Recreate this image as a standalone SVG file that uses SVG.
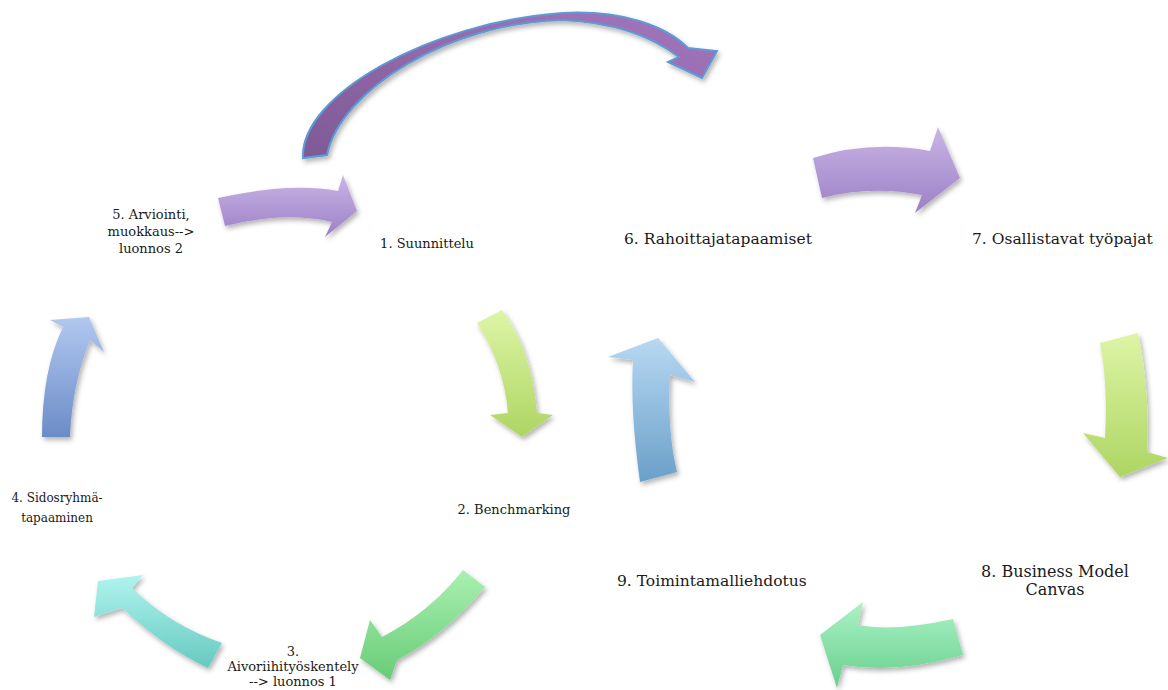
<svg xmlns="http://www.w3.org/2000/svg" width="1168" height="690" viewBox="0 0 1168 690">
<style>
.t{font-family:"DejaVu Serif","Liberation Serif",serif;fill:#1a1a1a}
.s{font-size:13px}
.l{font-size:15.5px}
.m{font-size:16px}
.arr{filter:url(#sh)}
</style>
<defs>
<filter id="sh" x="-20%" y="-20%" width="150%" height="150%">
<feDropShadow dx="2" dy="3" stdDeviation="2.5" flood-color="#000" flood-opacity="0.3"/>
</filter>
<linearGradient id="gPur" x1="0" y1="0" x2="0" y2="1"><stop offset="0" stop-color="#c9b5e6"/><stop offset="1" stop-color="#9c80c6"/></linearGradient>
<linearGradient id="gArc" x1="0" y1="1" x2="1" y2="0"><stop offset="0" stop-color="#7e5a95"/><stop offset="1" stop-color="#a476bd"/></linearGradient>
<linearGradient id="gLime" x1="0" y1="0" x2="0" y2="1"><stop offset="0" stop-color="#ddf5a6"/><stop offset="1" stop-color="#aed562"/></linearGradient>
<linearGradient id="gSky" x1="0" y1="0" x2="0" y2="1"><stop offset="0" stop-color="#b8d8f2"/><stop offset="1" stop-color="#6aa0c9"/></linearGradient>
<linearGradient id="gBlue" x1="0" y1="0" x2="0" y2="1"><stop offset="0" stop-color="#b2c8f0"/><stop offset="1" stop-color="#6b8cc7"/></linearGradient>
<linearGradient id="gCyan" x1="0" y1="0" x2="0" y2="1"><stop offset="0" stop-color="#b0f4ee"/><stop offset="1" stop-color="#66c9c0"/></linearGradient>
<linearGradient id="gGrn" x1="0" y1="0" x2="0" y2="1"><stop offset="0" stop-color="#a9f0b0"/><stop offset="1" stop-color="#68cc78"/></linearGradient>
<linearGradient id="gGrn2" x1="0" y1="0" x2="0" y2="1"><stop offset="0" stop-color="#aaf2c4"/><stop offset="1" stop-color="#68cf8e"/></linearGradient>
</defs>

<g id="connectors">
<path id="arc-5-6" class="arr" d="M303,158 C300,95 430,22 563,13 C620,10 665,25 688,48 L717,51 L702,78 L668,62 L679,57 C650,35 610,22 563,20 C450,22 340,90 327,155 Z" fill="url(#gArc)" stroke="#5b9bd5" stroke-width="2" stroke-linejoin="miter"/>
<path id="a-5-1" class="arr" d="M218,198 Q290,182 338,191 L343,175 L357,211 L325,237 L332,222 Q285,211 225,226 Z" fill="url(#gPur)"/>
<path id="a-6-7" class="arr" d="M813,158 Q870,140 930,151 L938,127 L960,178 L915,213 L922,195 Q870,185 822,198 Z" fill="url(#gPur)"/>
<path id="a-1-2" class="arr" d="M477,323 L502,310 Q532,350 537,413 L553,415 L522,437 L490,415 L508,413 Q504,365 477,323 Z" fill="url(#gLime)"/>
<path id="a-9-6" class="arr" d="M640,482 Q630,410 633,360 L608,357 L658,338 L695,382 L670,375 Q667,430 677,472 Z" fill="url(#gSky)"/>
<path id="a-4-5" class="arr" d="M42,437 Q42,370 63,327 L50,320 L89,317 L104,352 L90,340 Q72,385 70,437 Z" fill="url(#gBlue)"/>
<path id="a-7-8" class="arr" d="M1100,343 L1138,333 Q1150,390 1147,452 L1168,458 L1120,477 L1083,433 L1105,438 Q1108,385 1100,343 Z" fill="url(#gLime)"/>
<path id="a-3-4" class="arr" d="M222,643 Q170,625 132,588 L143,575 L98,581 L94,617 L122,608 Q165,648 208,668 Z" fill="url(#gCyan)"/>
<path id="a-2-3" class="arr" d="M463,570 L485,587 Q445,635 397,660 L390,680 L360,658 L370,620 L382,637 Q430,612 463,570 Z" fill="url(#gGrn)"/>
<path id="a-8-9" class="arr" d="M953,619 Q894,632 858,625 L863,602 L820,635 L837,688 L843,665 Q897,674 963,655 Z" fill="url(#gGrn2)"/>
</g>

<g id="n1"><text class="t s" x="427" y="248" text-anchor="middle">1. Suunnittelu</text></g>
<g id="n2"><text class="t s" x="514" y="514" text-anchor="middle">2. Benchmarking</text></g>
<g id="n3"><text class="t s" text-anchor="middle"><tspan x="293" y="656">3.</tspan><tspan x="293" y="671">Aivoriihityöskentely</tspan><tspan x="293" y="686">--&gt; luonnos 1</tspan></text></g>
<g id="n4"><text class="t s" text-anchor="middle" style="font-size:12px"><tspan x="57" y="502">4. Sidosryhmä-</tspan><tspan x="57" y="522">tapaaminen</tspan></text></g>
<g id="n5"><text class="t s" text-anchor="middle"><tspan x="151" y="219">5. Arviointi,</tspan><tspan x="151" y="236">muokkaus--&gt;</tspan><tspan x="151" y="253">luonnos 2</tspan></text></g>
<g id="n6"><text class="t l" x="624" y="244">6. Rahoittajatapaamiset</text></g>
<g id="n7"><text class="t l" x="972" y="244">7. Osallistavat työpajat</text></g>
<g id="n8"><text class="t m" text-anchor="middle"><tspan x="1055" y="577">8. Business Model</tspan><tspan x="1055" y="595">Canvas</tspan></text></g>
<g id="n9"><text class="t l" x="617" y="586">9. Toimintamalliehdotus</text></g>
</svg>
